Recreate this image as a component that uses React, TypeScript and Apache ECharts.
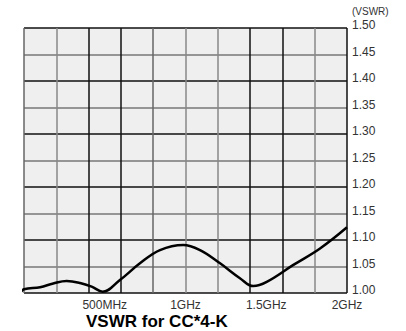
import React, { useEffect, useRef } from "react";
import * as echarts from "echarts";

const freqMHz = [-22, 0, 100, 181, 264, 347, 419, 487, 594, 718, 842, 986, 1090, 1214, 1337, 1420, 1503, 1668, 1833, 2000];
const vswr = [1.001, 1.007, 1.011, 1.018, 1.0226, 1.019, 1.012, 1.0025, 1.0245, 1.056, 1.081, 1.0906, 1.081, 1.056, 1.028, 1.013, 1.021, 1.053, 1.084, 1.124];
const xLabelTicks = [500, 1000, 1500, 2000];
const xLabelText: Record<number, string> = { 500: "500MHz", 1000: "1GHz", 1500: "1.5GHz", 2000: "2GHz" };
const vLineColors = ["#666", "#888", "#111", "#111", "#666", "#888", "#888", "#111", "#111", "#888", "#111"];
const hLineColors = ["#111", "#777"];

export default function App() {
  const ref = useRef<HTMLDivElement>(null);
  useEffect(() => {
    const chart = echarts.init(ref.current!, null, { renderer: "svg" });
    const font = "Liberation Sans, Arial, Helvetica, sans-serif";
    chart.setOption({
      animation: false,
      grid: { left: 24, right: 59, top: 28, bottom: 38, show: true, backgroundColor: "#efefef", borderWidth: 0 },
      xAxis: [
        {
          type: "value", min: 0, max: 2000, interval: 200,
          axisLine: { show: false }, axisTick: { show: false }, axisLabel: { show: false },
          splitLine: { show: true, lineStyle: { color: vLineColors, width: 1.5 } },
        },
        {
          type: "value", min: 0, max: 2000, interval: 500, position: "bottom",
          axisLine: { show: false }, axisTick: { show: false }, splitLine: { show: false },
          axisLabel: {
            margin: 6, fontSize: 12, color: "#333", fontFamily: font,
            formatter: (v: number) => (xLabelTicks.includes(v) ? xLabelText[v] : ""),
          },
        },
      ],
      yAxis: {
        type: "value", min: 1.0, max: 1.5, interval: 0.05, position: "right",
        axisLine: { show: false }, axisTick: { show: false },
        splitLine: { show: true, lineStyle: { color: hLineColors, width: 1.5 } },
        axisLabel: {
          margin: 5, fontSize: 12, color: "#333", fontFamily: font,
          verticalAlign: "bottom", lineHeight: 6,
          formatter: (v: number) => v.toFixed(2),
        },
      },
      graphic: [
        { type: "text", left: 352, top: 6, style: { text: "(VSWR)", fontSize: 10, fill: "#333", fontFamily: font } },
        { type: "text", left: 86, top: 313, style: { text: "VSWR for CC*4-K", fontSize: 17, fontWeight: "bold", fill: "#000", fontFamily: font } },
      ],
      series: [
        {
          type: "line", xAxisIndex: 0, smooth: 0.4, symbol: "none", clip: false,
          lineStyle: { color: "#000", width: 2.5 },
          data: freqMHz.map((f, i) => [f, vswr[i]]),
        },
      ],
    });
    return () => chart.dispose();
  }, []);
  return <div ref={ref} style={{ width: 406, height: 331, position: "absolute", left: 0, top: 0 }} />;
}
